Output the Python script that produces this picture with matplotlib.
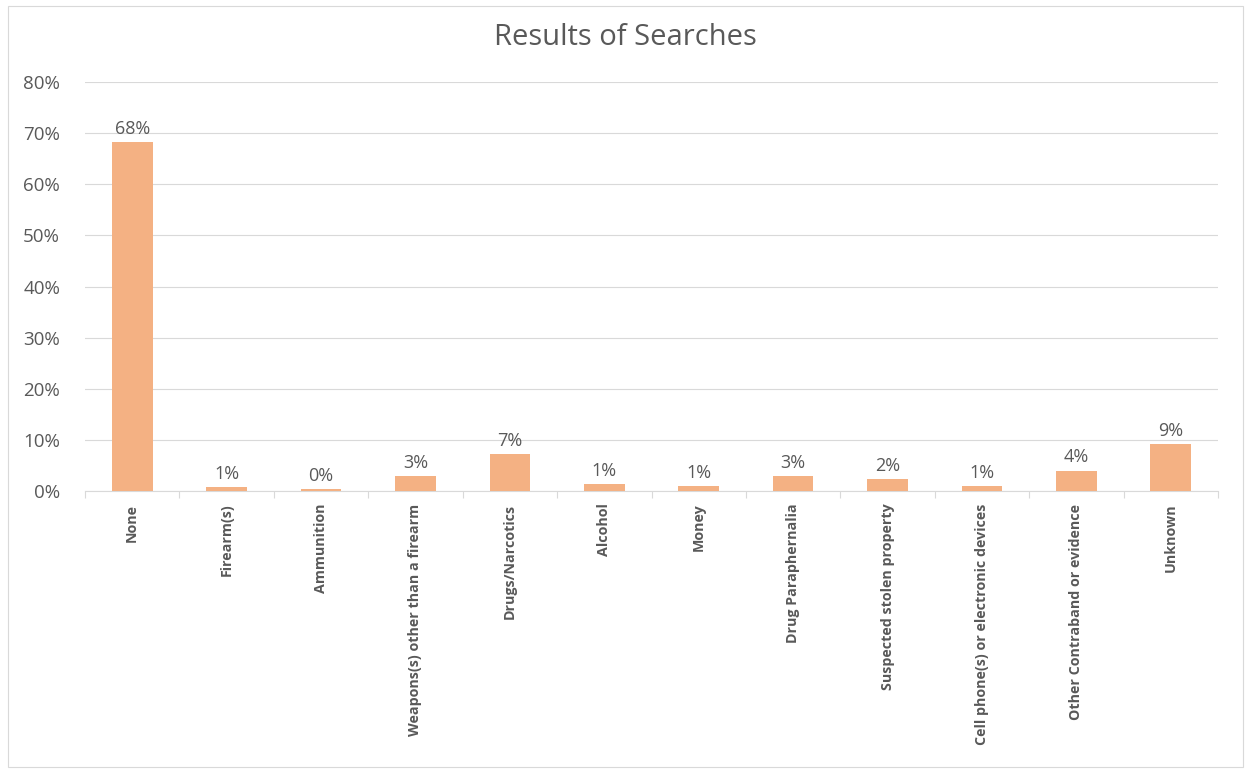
import matplotlib
matplotlib.use("Agg")
import matplotlib.pyplot as plt
import numpy as np
from matplotlib.patches import Rectangle

plt.rcParams['font.family'] = ['Open Sans', 'DejaVu Sans']

categories = ["None", "Firearm(s)", "Ammunition", "Weapons(s) other than a firearm",
              "Drugs/Narcotics", "Alcohol", "Money", "Drug Paraphernalia",
              "Suspected stolen property", "Cell phone(s) or electronic devices",
              "Other Contraband or evidence", "Unknown"]
values = [68.3, 0.8, 0.4, 3.0, 7.2, 1.4, 0.9, 2.9, 2.3, 0.9, 4.0, 9.2]
yticks = [0, 10, 20, 30, 40, 50, 60, 70, 80]

bar_color = "#F4B183"
text_color = "#595959"
grid_color = "#D9D9D9"

fig = plt.figure(figsize=(12.5, 7.73), dpi=100)
fig.patches.append(Rectangle((0.006, 0.008), 0.988, 0.984, transform=fig.transFigure,
                             fill=False, edgecolor="#D9D9D9", linewidth=0.8))
ax = fig.add_axes([0.068, 0.3648, 0.9064, 0.5291])

x = np.arange(len(categories))
ax.bar(x, values, width=0.43, color=bar_color, zorder=3)
for xi, v in zip(x, values):
    ax.text(xi, v + 0.8, f"{round(v):.0f}%", ha="center", va="bottom",
            fontsize=13, color=text_color)

ax.set_xlim(-0.5, len(categories) - 0.5)
ax.set_ylim(0, 80)
ax.set_yticks(yticks)
ax.set_yticklabels([f"{t}%" for t in yticks], fontsize=13.5, color=text_color)
ax.yaxis.grid(True, color=grid_color, linewidth=0.8, zorder=0)
ax.tick_params(axis='y', length=0, pad=18)

ax.set_xticks(x)
ax.set_xticklabels(categories, rotation=90, fontsize=10.3, color=text_color,
                   fontweight='bold')
ax.tick_params(axis='x', length=0, pad=9)
ax.set_xticks(np.arange(-0.5, len(categories), 1.0), minor=True)
ax.tick_params(axis='x', which='minor', length=5, color=grid_color, width=0.8)

for s in ["top", "right", "left"]:
    ax.spines[s].set_visible(False)
ax.spines["bottom"].set_color(grid_color)
ax.spines["bottom"].set_linewidth(0.8)

fig.text(0.5, 0.951, "Results of Searches", ha="center", va="center",
         fontsize=21, color=text_color)

fig.savefig("out.png", dpi=100)
